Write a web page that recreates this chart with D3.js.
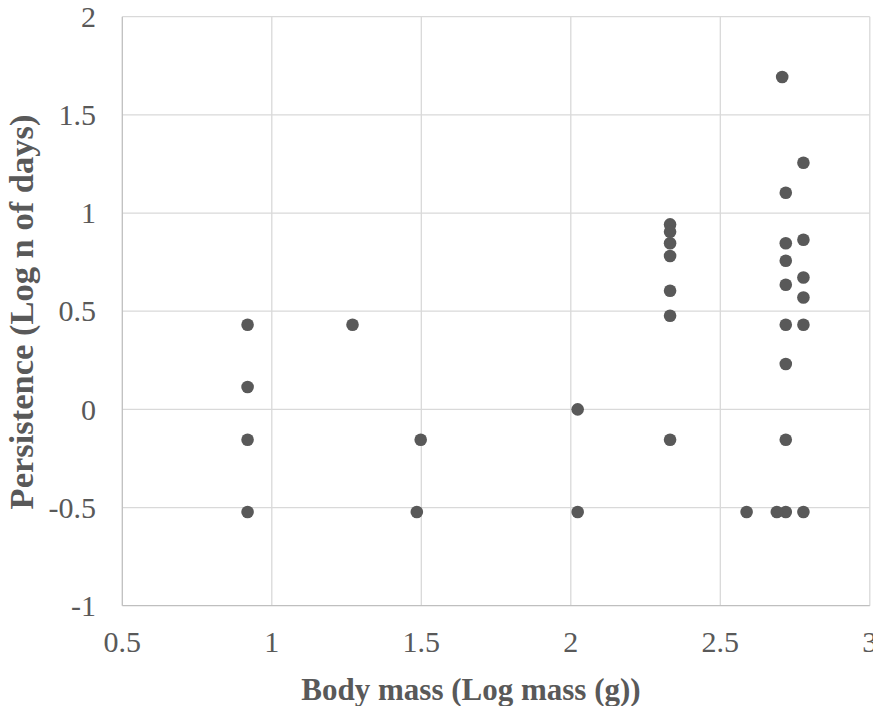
<!DOCTYPE html>
<html>
<head>
<meta charset="utf-8">
<script src="https://cdn.jsdelivr.net/npm/d3@7"></script>
<style>
  html, body { margin: 0; padding: 0; background: #fff; }
  svg { display: block; }
  svg text { font-family: "Liberation Serif", "Times New Roman", Times, Tinos, "DejaVu Serif", serif; }
</style>
</head>
<body>
<svg id="chart" width="873" height="706"></svg>
<script>
// Body mass (log g) of each record
const bodyMass = [
  0.919, 0.919, 0.919, 0.919,
  1.270,
  1.498, 1.485,
  2.023, 2.023,
  2.332, 2.332, 2.332, 2.332, 2.332, 2.332, 2.332,
  2.707,
  2.719, 2.719, 2.719, 2.719, 2.719, 2.719, 2.719, 2.719,
  2.778, 2.778, 2.778, 2.778, 2.778, 2.778,
  2.588, 2.689
];
// Persistence (log n of days) of each record
const persistence = [
  0.431, 0.114, -0.155, -0.523,
  0.431,
  -0.155, -0.523,
  0.000, -0.523,
  0.942, 0.905, 0.846, 0.781, 0.604, 0.477, -0.155,
  1.693,
  1.103, 0.846, 0.757, 0.635, 0.431, 0.231, -0.155, -0.523,
  1.256, 0.864, 0.672, 0.570, 0.431, -0.523,
  -0.523, -0.523
];
const xTicks = [0.5, 1, 1.5, 2, 2.5, 3];
const yTicks = [-1, -0.5, 0, 0.5, 1, 1.5, 2];
const xTitle = "Body mass (Log mass (g))";
const yTitle = "Persistence (Log n of days)";

const svg = d3.select("#chart");
const plot = { left: 122.3, right: 869.8, top: 16.7, bottom: 605.7 };

const x = d3.scaleLinear().domain([0.5, 3]).range([plot.left, plot.right]);
const y = d3.scaleLinear().domain([-1, 2]).range([plot.bottom, plot.top]);

const textColor = "#595959";
const gridColor = "#d9d9d9";
const axisColor = "#bfbfbf";
const tickFont = 30;
const xTitleFont = 31;
const yTitleFont = 34.5;

// gridlines
svg.append("g")
  .selectAll("line")
  .data(xTicks.slice(1))
  .join("line")
  .attr("x1", d => x(d)).attr("x2", d => x(d))
  .attr("y1", plot.top).attr("y2", plot.bottom)
  .attr("stroke", gridColor).attr("stroke-width", 1.3);

svg.append("g")
  .selectAll("line")
  .data(yTicks.slice(1))
  .join("line")
  .attr("x1", plot.left).attr("x2", plot.right)
  .attr("y1", d => y(d)).attr("y2", d => y(d))
  .attr("stroke", gridColor).attr("stroke-width", 1.3);

// axis lines
svg.append("line")
  .attr("x1", plot.left).attr("x2", plot.left)
  .attr("y1", plot.top).attr("y2", plot.bottom)
  .attr("stroke", axisColor).attr("stroke-width", 1.3);
svg.append("line")
  .attr("x1", plot.left).attr("x2", plot.right)
  .attr("y1", plot.bottom).attr("y2", plot.bottom)
  .attr("stroke", axisColor).attr("stroke-width", 1.3);

// tick labels
svg.append("g")
  .selectAll("text")
  .data(xTicks)
  .join("text")
  .attr("x", d => x(d))
  .attr("y", 651.7)
  .attr("text-anchor", "middle")
  .attr("font-size", tickFont)
  .attr("fill", textColor)
  .text(d => d);

svg.append("g")
  .selectAll("text")
  .data(yTicks)
  .join("text")
  .attr("x", 96)
  .attr("y", d => y(d) + tickFont * 0.34)
  .attr("text-anchor", "end")
  .attr("font-size", tickFont)
  .attr("fill", textColor)
  .text(d => d);

// axis titles
svg.append("text")
  .attr("x", 471)
  .attr("y", 700)
  .attr("text-anchor", "middle")
  .attr("font-weight", "bold")
  .attr("font-size", xTitleFont)
  .attr("fill", textColor)
  .text(xTitle);

svg.append("text")
  .attr("transform", `translate(33, 312) rotate(-90)`)
  .attr("text-anchor", "middle")
  .attr("font-weight", "bold")
  .attr("font-size", yTitleFont)
  .attr("fill", textColor)
  .text(yTitle);

// points
svg.append("g")
  .selectAll("circle")
  .data(bodyMass.map((m, i) => [m, persistence[i]]))
  .join("circle")
  .attr("cx", d => x(d[0]))
  .attr("cy", d => y(d[1]))
  .attr("r", 6.3)
  .attr("fill", textColor);
</script>
</body>
</html>
